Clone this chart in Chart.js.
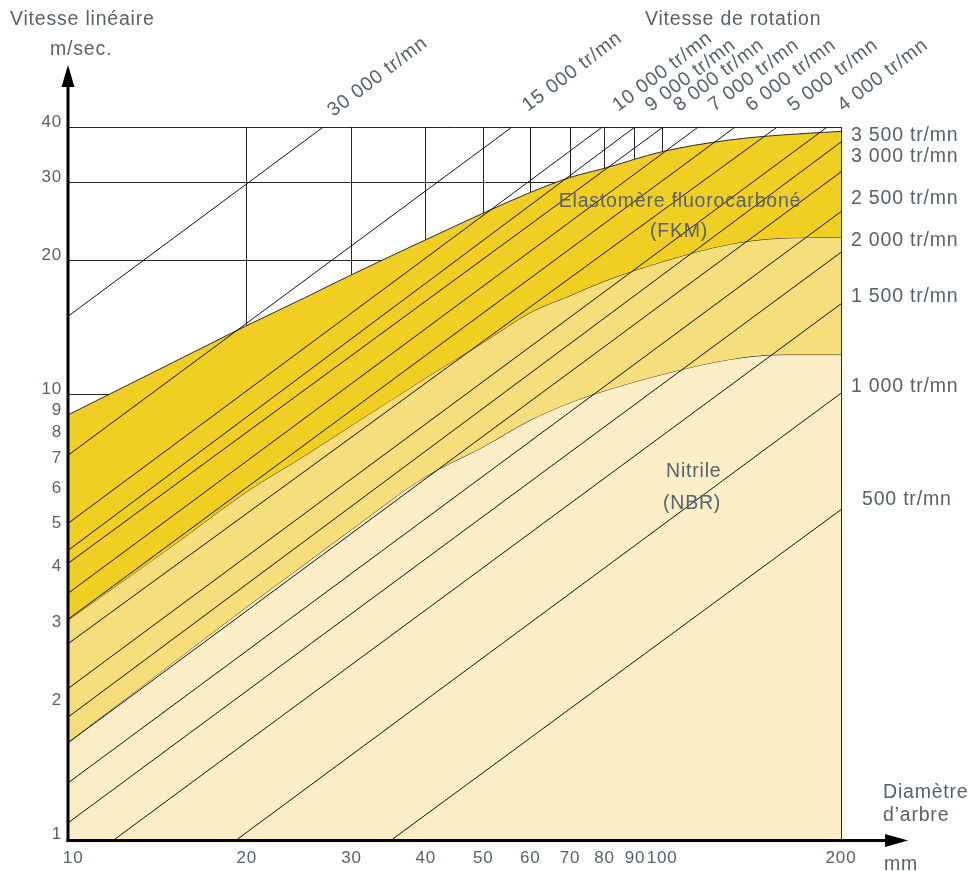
<!DOCTYPE html>
<html lang="fr">
<head>
<meta charset="utf-8">
<title>Vitesse linéaire en fonction du diamètre d’arbre</title>
<script src="https://cdn.jsdelivr.net/npm/chart.js@4.4.1/dist/chart.umd.min.js"></script>
<style>
  html, body { margin: 0; padding: 0; background: #ffffff; }
  #wrap { position: relative; width: 970px; height: 871px; }
</style>
</head>
<body>
<div id="wrap"><canvas id="chart"></canvas></div>
<script>
// Shaft diameters (mm) at which the limit curves are read
const diameters = [10, 15, 20, 25, 30, 40, 50, 60, 70, 80, 100, 130, 160, 200];
// Upper limit of the fluorocarbon elastomer (FKM) band, m/s
const fkmUpper = [9.0, 11.8, 14.3, 16.5, 18.6, 22.3, 25.6, 28.5, 30.8, 32.3, 35.2, 37.4, 38.4, 39.1];
// Boundary between the two upper bands, m/s
const midLimit = [3.11, 4.57, 6.05, 7.28, 8.52, 10.9, 13.1, 15.3, 16.7, 18.0, 19.9, 21.8, 22.5, 22.6];
// Upper limit of the nitrile (NBR) band, m/s
const nbrUpper = [1.65, 2.49, 3.33, 4.15, 4.97, 6.54, 7.63, 8.76, 9.59, 10.2, 11.1, 12.0, 12.3, 12.3];

// Rotation speed lines (tr/mn) and their two ends [diameter mm, speed m/s]
const rpmValues = [30000, 15000, 10000, 9000, 8000, 7000, 6000, 5000, 4000, 3500, 3000, 2500, 2000, 1500, 1000, 500];
const rpmStart = [[10, 15.0], [10, 7.3], [10, 5.13], [10, 4.46], [10, 4.17], [10, 3.57], [10, 3.12], [10, 2.75],
                  [10, 2.18], [10, 1.88], [10, 1.646], [10, 1.337], [10, 1.087], [12.0, 1], [19.3, 1], [35.2, 1]];
const rpmEnd = [[26.9, 40], [55.9, 40], [79.3, 40], [90.0, 40], [100.4, 40], [115, 40], [132.7, 40], [156.2, 40],
                [189.6, 40], [200, 37.0], [200, 31.7], [200, 25.8], [200, 20.9], [200, 16.0], [200, 10.07], [200, 5.51]];

// Axis graduations
const xTicks = [10, 20, 30, 40, 50, 60, 70, 80, 90, 100, 200];
const yTicks = [1, 2, 3, 4, 5, 6, 7, 8, 9, 10, 20, 30, 40];

const FONT = '"Liberation Sans", Arial, Helvetica, sans-serif';
const TEXT = '#56616c';
const DARK = '#f0ce22';
const MEDIUM = '#f6de7c';
const LIGHT = '#fbedc6';
const GRID = 'rgba(0,0,0,0.85)';

function rpmText(n) {
  return String(n).replace(/\B(?=(\d{3})+(?!\d))/g, ' ') + ' tr/mn';
}

function curve(values) {
  return diameters.map((d, i) => ({ x: d, y: values[i] }));
}

const bandCommon = {
  borderColor: '#2a2a2a',
  borderWidth: 1,
  pointRadius: 0,
  cubicInterpolationMode: 'monotone',
  order: 10
};

const datasets = [
  Object.assign({ label: 'FKM', data: curve(fkmUpper), backgroundColor: DARK, fill: '+1' }, bandCommon),
  Object.assign({ label: 'Limite intermédiaire', data: curve(midLimit), backgroundColor: MEDIUM, fill: '+1' }, bandCommon),
  Object.assign({ label: 'NBR', data: curve(nbrUpper), backgroundColor: LIGHT, fill: 'start' }, bandCommon)
];

rpmValues.forEach((n, i) => {
  datasets.push({
    label: rpmText(n),
    data: [{ x: rpmStart[i][0], y: rpmStart[i][1] }, { x: rpmEnd[i][0], y: rpmEnd[i][1] }],
    borderColor: '#111111',
    borderWidth: 1,
    pointRadius: 0,
    fill: false,
    order: 0
  });
});

// Placement of the rotation-speed captions
const topLabelAngle = -37 * Math.PI / 180;
const sideLabels = [
  { rpm: 3500, x: 851, y: 141 },
  { rpm: 3000, x: 851, y: 162 },
  { rpm: 2500, x: 851, y: 203.5 },
  { rpm: 2000, x: 851, y: 246 },
  { rpm: 1500, x: 851, y: 302 },
  { rpm: 1000, x: 851, y: 392 },
  { rpm: 500, x: 862, y: 505 }
];

const spacingPlugin = {
  id: 'spacing',
  beforeDraw(chart) { chart.ctx.letterSpacing = '0.8px'; }
};

const decorPlugin = {
  id: 'decor',
  afterDraw(chart) {
    const { ctx, chartArea, scales } = chart;
    const xs = scales.x;
    ctx.save();

    // Axes with arrows
    ctx.strokeStyle = '#000';
    ctx.fillStyle = '#000';
    ctx.lineWidth = 3;
    ctx.beginPath();
    ctx.moveTo(chartArea.left, chartArea.bottom + 3);
    ctx.lineTo(chartArea.left, 84);
    ctx.stroke();
    ctx.beginPath();
    ctx.moveTo(chartArea.left, 65);
    ctx.lineTo(chartArea.left - 6.5, 87);
    ctx.lineTo(chartArea.left + 6.5, 87);
    ctx.closePath();
    ctx.fill();

    const ay = chartArea.bottom + 1.5;
    ctx.beginPath();
    ctx.moveTo(chartArea.left - 1.5, ay);
    ctx.lineTo(888, ay);
    ctx.stroke();
    ctx.beginPath();
    ctx.moveTo(908, ay);
    ctx.lineTo(885, ay - 6.5);
    ctx.lineTo(885, ay + 6.5);
    ctx.closePath();
    ctx.fill();

    // Texts
    ctx.fillStyle = TEXT;
    ctx.letterSpacing = '0.8px';
    ctx.font = '19.5px ' + FONT;
    ctx.textBaseline = 'alphabetic';
    ctx.textAlign = 'left';
    ctx.fillText('Vitesse linéaire', 10, 25);
    ctx.fillText('m/sec.', 50, 55);
    ctx.fillText('Vitesse de rotation', 645, 25);
    ctx.fillText('Diamètre', 883, 798);
    ctx.fillText('d’arbre', 883, 821);
    ctx.fillText('mm', 884, 870);

    ctx.textAlign = 'center';
    ctx.fillText('Elastomère fluorocarboné', 680, 207);
    ctx.fillText('(FKM)', 679, 237);
    ctx.textAlign = 'left';
    ctx.fillText('Nitrile', 666, 477);
    ctx.fillText('(NBR)', 663, 509);

    // Captions of the speed lines leaving through the top
    rpmValues.forEach((n, i) => {
      if (rpmEnd[i][1] < 40) return;
      const px = xs.getPixelForValue(rpmEnd[i][0]);
      ctx.save();
      if (n === 30000) ctx.translate(px + 10, 117);
      else ctx.translate(px + 16, 112);
      ctx.rotate(topLabelAngle);
      ctx.fillText(rpmText(n), 0, 0);
      ctx.restore();
    });

    // Captions of the speed lines leaving through the right side
    sideLabels.forEach(l => ctx.fillText(rpmText(l.rpm), l.x, l.y));

    ctx.restore();
  }
};

const tickFont = { family: FONT, size: 17 };

new Chart(document.getElementById('chart'), {
  type: 'line',
  data: { datasets },
  plugins: [spacingPlugin, decorPlugin],
  options: {
    responsive: true,
    maintainAspectRatio: false,
    animation: false,
    events: [],
    layout: { padding: { top: 127, right: 129, bottom: 0, left: 0 } },
    plugins: {
      legend: { display: false },
      tooltip: { enabled: false },
      filler: { propagate: false }
    },
    scales: {
      x: {
        type: 'logarithmic',
        min: 10,
        max: 200,
        z: 1,
        afterBuildTicks: s => { s.ticks = xTicks.map(v => ({ value: v })); },
        afterFit: s => { s.height = 32; },
        border: { display: false },
        grid: { color: GRID, lineWidth: 1, drawTicks: false },
        ticks: {
          autoSkip: false, maxRotation: 0, minRotation: 0, padding: 9,
          color: TEXT, font: tickFont,
          // the first graduation sits clear of the vertical axis
          callback: v => (v === 10 ? '\u2007' : '') + String(v)
        }
      },
      y: {
        type: 'logarithmic',
        min: 1,
        max: 40,
        z: 1,
        afterBuildTicks: s => { s.ticks = yTicks.map(v => ({ value: v })); },
        afterFit: s => { s.width = 68; },
        border: { display: false },
        grid: { color: GRID, lineWidth: 1, drawTicks: false },
        ticks: {
          padding: 6, labelOffset: -5,
          color: TEXT, font: tickFont,
          callback: v => String(v)
        }
      }
    }
  }
});
</script>
</body>
</html>
